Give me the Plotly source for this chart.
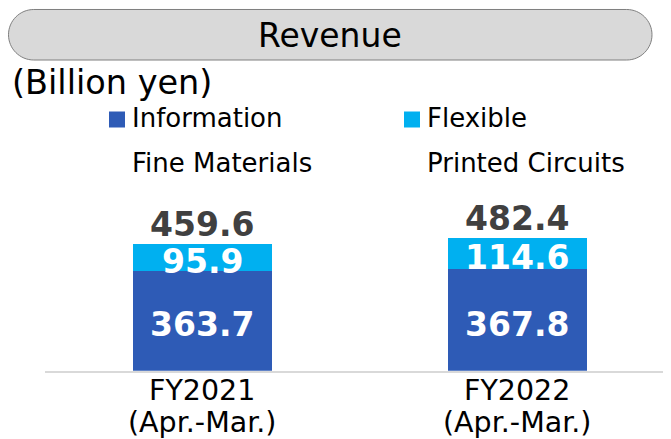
import plotly.graph_objects as go

# The page body has an 8px default margin, so the figure is drawn 8px in from the corner.
OFF = 8
W, H = 671 - OFF, 439 - OFF

categories = ["FY2021", "FY2022"]
category_sublabels = ["(Apr.-Mar.)", "(Apr.-Mar.)"]
series_names = ["Information<br>Fine Materials", "Flexible<br>Printed Circuits"]
info_fine_materials = [363.7, 367.8]
flexible_printed_circuits = [95.9, 114.6]
series_values = [info_fine_materials, flexible_printed_circuits]
series_colors = ["#2E5BB6", "#00B0F0"]
title_text = "Revenue"
unit_text = "(Billion yen)"

FONT = "DejaVu Sans"

def px(x):
    return (x - OFF) / W

def py(y):
    return 1 - (y - OFF) / H

x_idx = list(range(len(categories)))

fig = go.Figure()
for name, vals, col in zip(series_names, series_values, series_colors):
    fig.add_trace(go.Bar(
        x=x_idx, y=vals, name=name.replace("<br>", " "),
        marker=dict(color=col, line=dict(width=0)),
        width=0.444, showlegend=False, hoverinfo="skip",
    ))

annotations = []
base = [0.0] * len(categories)
for vals in series_values:
    for i, v in enumerate(vals):
        mid = base[i] + v / 2
        annotations.append(dict(
            x=i, y=mid, xref="x", yref="y", text=f"{v:.1f}", showarrow=False,
            font=dict(family=FONT, size=33, color="white", weight="bold"),
            xanchor="center", yanchor="middle", yshift=-4,
        ))
        base[i] += v
for i, t in enumerate(base):
    annotations.append(dict(
        x=i, y=t, xref="x", yref="y", text=f"{t:.1f}", showarrow=False,
        font=dict(family=FONT, size=33, color="#404040", weight="bold"),
        xanchor="center", yanchor="bottom", yshift=-2,
    ))

# category labels (two lines, tight spacing as in the reference)
for i, (c, s) in enumerate(zip(categories, category_sublabels)):
    annotations.append(dict(x=i, y=py(390), xref="x", yref="paper", text=c,
                            showarrow=False, xanchor="center", yanchor="middle",
                            font=dict(family=FONT, size=28.5, color="black")))
    annotations.append(dict(x=i, y=py(422), xref="x", yref="paper", text=s,
                            showarrow=False, xanchor="center", yanchor="middle",
                            font=dict(family=FONT, size=28.5, color="black")))

def rrect(x0, y0, x1, y1, r):
    k = 0.5523 * r
    pts = [
        ("M", [(x0 + r, y0)]),
        ("L", [(x1 - r, y0)]),
        ("C", [(x1 - r + k, y0), (x1, y0 + r - k), (x1, y0 + r)]),
        ("L", [(x1, y1 - r)]),
        ("C", [(x1, y1 - r + k), (x1 - r + k, y1), (x1 - r, y1)]),
        ("L", [(x0 + r, y1)]),
        ("C", [(x0 + r - k, y1), (x0, y1 - r + k), (x0, y1 - r)]),
        ("L", [(x0, y0 + r)]),
        ("C", [(x0, y0 + r - k), (x0 + r - k, y0), (x0 + r, y0)]),
    ]
    s = ""
    for cmd, ps in pts:
        s += cmd + " " + " ".join(f"{px(a):.5f},{py(b):.5f}" for a, b in ps) + " "
    return s + "Z"

shapes = [dict(type="path", xref="paper", yref="paper",
               path=rrect(8.5, 9.5, 652, 60, 25.25),
               fillcolor="#D9D9D9", line=dict(color="#7F7F7F", width=1), layer="below")]

annotations.append(dict(x=px(330), y=py(36), xref="paper", yref="paper", text=title_text,
                        showarrow=False, xanchor="center", yanchor="middle",
                        font=dict(family=FONT, size=33, color="black")))
annotations.append(dict(x=px(10), y=py(82), xref="paper", yref="paper", text=unit_text,
                        showarrow=False, xanchor="left", yanchor="middle",
                        font=dict(family=FONT, size=33.5, color="black")))

leg_sq_x = [109, 404]
leg_txt_x = [130, 425]
for name, col, sx, tx in zip(series_names, series_colors, leg_sq_x, leg_txt_x):
    shapes.append(dict(type="rect", xref="paper", yref="paper",
                       x0=px(sx), x1=px(sx + 16), y0=py(111.5), y1=py(127.5),
                       fillcolor=col, line=dict(width=0)))
    l1, l2 = name.split("<br>")
    annotations.append(dict(x=px(tx), y=py(118), xref="paper", yref="paper", text=l1,
                            showarrow=False, xanchor="left", yanchor="middle",
                            font=dict(family=FONT, size=26, color="black")))
    annotations.append(dict(x=px(tx), y=py(163), xref="paper", yref="paper", text=l2,
                            showarrow=False, xanchor="left", yanchor="middle",
                            font=dict(family=FONT, size=26, color="black")))

x_left = 44.5
scale_x = 315.0
x0r = -(202 - x_left) / scale_x
x1r = x0r + (671 - x_left) / scale_x
y_bottom, y_top = 370.7, 232.85

fig.update_layout(
    width=W, height=H,
    margin=dict(l=0, r=0, t=0, b=0, pad=0, autoexpand=False),
    paper_bgcolor="white", plot_bgcolor="white",
    barmode="stack", bargap=0,
    shapes=shapes, annotations=annotations,
    font=dict(family=FONT),
    xaxis=dict(domain=[px(x_left), 1], range=[x0r, x1r], tickmode="array",
               tickvals=x_idx, ticktext=categories, showticklabels=False,
               showgrid=False, zeroline=False,
               showline=True, linecolor="#D9D9D9", linewidth=2, ticks="",
               automargin=False, fixedrange=True),
    yaxis=dict(domain=[py(y_bottom), py(y_top)], range=[0, 500], visible=False,
               automargin=False, fixedrange=True),
)

fig.write_html("out.html")
